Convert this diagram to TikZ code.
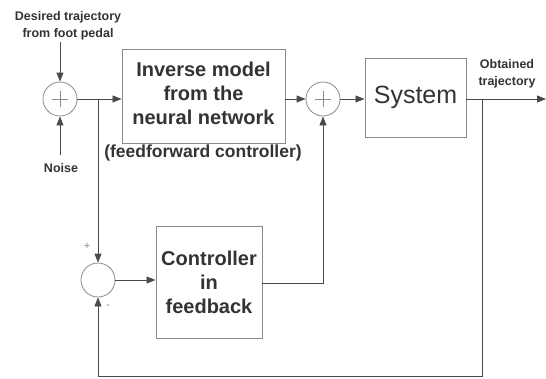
\documentclass[tikz,border=0pt]{standalone}
\usepackage{fontspec}
\setmainfont{Liberation Sans}
\usetikzlibrary{arrows.meta,positioning}
\definecolor{boxgray}{HTML}{8A8A8A}
\definecolor{linegray}{HTML}{4A4A4A}
\definecolor{textgray}{HTML}{333333}
\tikzset{
  block/.style={draw=boxgray,line width=0.9pt,inner sep=0pt,align=center,text=textgray},
  sumnode/.style={circle,draw=boxgray,line width=0.8pt,minimum size=34pt,inner sep=0pt},
  link/.style={draw=linegray,line width=0.8pt,-{Triangle[length=9pt,width=7pt]}},
  wire/.style={draw=linegray,line width=0.8pt},
  label/.style={align=center,text=textgray,font=\fontsize{12.5}{16.5}\selectfont\bfseries},
  sign/.style={text=boxgray,font=\fontsize{11}{11}\selectfont}
}
\begin{document}
\begin{tikzpicture}[x=1pt,y=-1pt]
  \useasboundingbox (0,0) rectangle (546,378);

  % summing junctions
  \node[sumnode] (sumIn) at (60,99) {};
  \node[sumnode] (sumFf) at (323,99) {};
  \node[sumnode] (sumFb) at (98,280) {};
  \draw[boxgray,line width=0.6pt] ([xshift=-8pt]sumIn.center) -- ([xshift=8pt]sumIn.center);
  \draw[boxgray,line width=0.6pt] ([yshift=-8pt]sumIn.center) -- ([yshift=8pt]sumIn.center);
  \draw[boxgray,line width=0.6pt] ([xshift=-8pt]sumFf.center) -- ([xshift=8pt]sumFf.center);
  \draw[boxgray,line width=0.6pt] ([yshift=-8pt]sumFf.center) -- ([yshift=8pt]sumFf.center);

  % blocks
  \node[block,minimum width=163pt,minimum height=94pt] (invModel) at (203.5,96) {};
  \node[align=center,text=textgray,font=\fontsize{20}{24}\selectfont\bfseries]
        (invText) at (203.5,93) {Inverse model\\from the\\neural network};
  \node[label,font=\fontsize{17.5}{20}\selectfont\bfseries] (ffText) at (203,153)
        {(feedforward controller)};
  \node[block,minimum width=101pt,minimum height=79pt,
        font=\fontsize{25}{28}\selectfont] (system) at (415.5,97.5) {System};
  \node[block,minimum width=106pt,minimum height=112pt,
        font=\fontsize{20}{24}\selectfont\bfseries] (fbCtrl) at (209,282)
        {Controller\\in\\feedback};

  % labels
  \node[label] (desired) at (68,26) {Desired trajectory\\from foot pedal};
  \node[label] (noise) at (61,168) {Noise};
  \node[label] (obtained) at (507,74) {Obtained\\trajectory};
  \node[sign] (plus) at (87,246) {+};
  \node[sign] (minus) at (108,307) {-};

  % points on the wires
  \coordinate (desEnd) at (60,42);
  \coordinate (noiseEnd) at (60,155);
  \coordinate (brIn) at (98,99);
  \coordinate (brOut) at (482,99);
  \coordinate (outEnd) at (546,99);
  \coordinate (ctrlTurn) at (323,283);
  \coordinate (fbRight) at (482,376);
  \coordinate (fbLeft) at (98,376);

  % connectors
  \draw[link] (desEnd) -- (sumIn.north);
  \draw[link] (noiseEnd) -- (sumIn.south);
  \draw[link] (sumIn.east) -- (sumIn.east -| invModel.west);
  \draw[link] (brIn) -- (sumFb.north);
  \draw[link] (invModel.east |- sumFf.west) -- (sumFf.west);
  \draw[link] (sumFf.east) -- (sumFf.east -| system.west);
  \draw[link] (system.east |- outEnd) -- (outEnd);
  \draw[link] (sumFb.east) -- (sumFb.east -| fbCtrl.west);
  \draw[link] (fbCtrl.east |- ctrlTurn) -- (ctrlTurn) -- (sumFf.south);
  \draw[link] (brOut) -- (fbRight) -- (fbLeft) -- (sumFb.south);
\end{tikzpicture}
\end{document}
